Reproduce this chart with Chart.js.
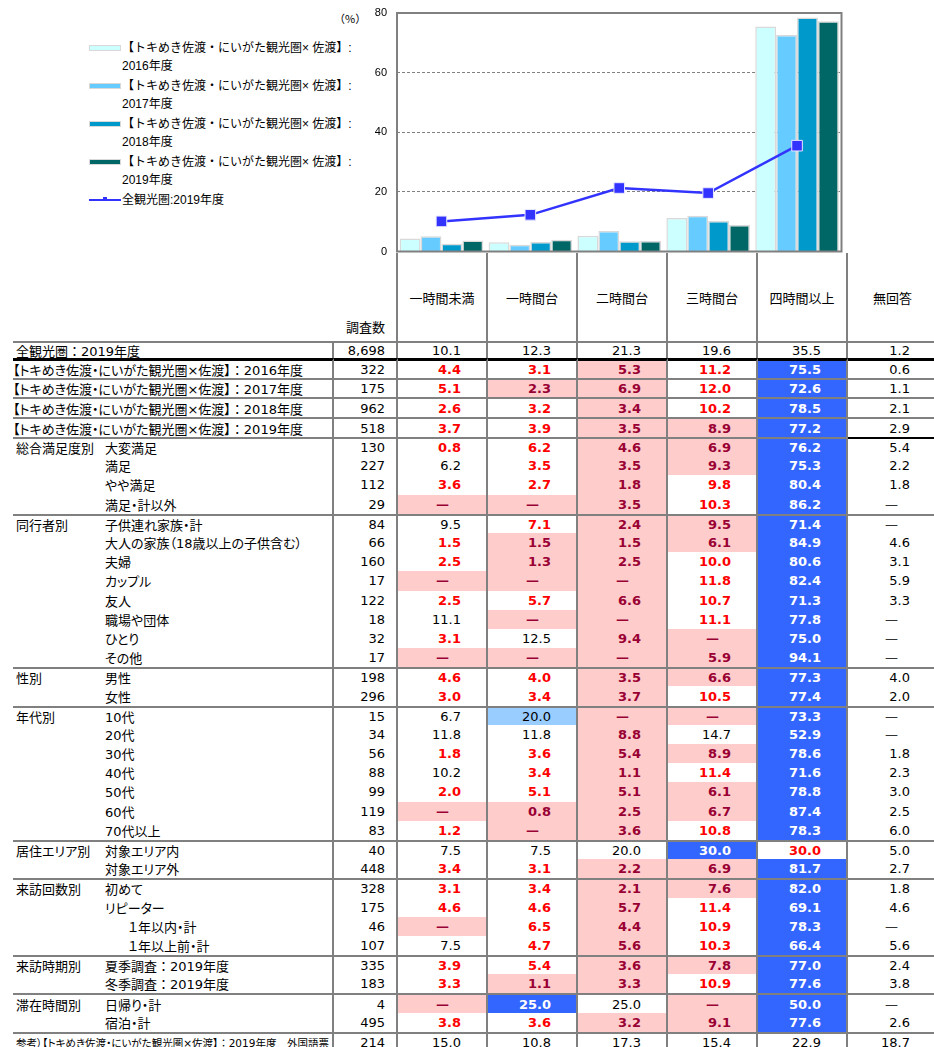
<!DOCTYPE html>
<html lang="ja">
<head>
<meta charset="utf-8">
<script src="https://cdn.jsdelivr.net/npm/chart.js@4.4.1/dist/chart.umd.min.js"></script>
<style>
  html, body { margin: 0; padding: 0; background: #fff; }
  body { width: 934px; height: 1047px; position: relative; overflow: hidden;
         font-family: "DejaVu Sans", "Noto Sans CJK JP", sans-serif; color: #000; }
  #chartBox { position: absolute; left: 360px; top: 0; width: 490px; height: 260px; z-index: 2; }
  #unit { position: absolute; left: 334px; top: 10px; font-size: 11px; font-family: "Noto Sans CJK JP"; }
  #legend { position: absolute; left: 88px; top: 39px; font-size: 12px;
            font-family: "Liberation Sans", "Noto Sans CJK JP", sans-serif; }
  .lg-item { position: relative; height: 38px; padding-left: 34px; line-height: 18px; white-space: nowrap; }
  .lg-sw { position: absolute; left: 1px; top: 6px; width: 30px; height: 4px; border: 1px solid #d9d9d9; }
  .lg-line { position: absolute; left: 1px; top: 8px; width: 32px; height: 2px; }
  .lg-pt { position: absolute; left: 14px; top: -2px; width: 4px; height: 4px; }

  #table { position: absolute; left: 13px; top: 253px; width: 924px; font-size: 13px; z-index: 1; }
  .row { display: flex; }
  .row > div { box-sizing: border-box; height: 100%; display: flex; align-items: center; white-space: nowrap; }
  .row.gt > div { border-top: 2px solid #808080; }
  .row.bt > div { border-top: 3px solid #000; }
  .lab { width: 321px; border-right: 2px solid #808080; padding-left: 3px;
         font-feature-settings: "palt"; }
  .grp { width: 90px; padding-left: 3px; font-feature-settings: "palt"; }
  .sub { width: 231px; border-right: 2px solid #808080; padding-left: 2px; font-feature-settings: "palt"; }
  .fw { font-feature-settings: normal; }
  .n { width: 64px; border-right: 2px solid #808080; justify-content: flex-end; padding-right: 11px; }
  .c { width: 90px; border-right: 2px solid #808080; justify-content: flex-end; padding-right: 25px; }
  .c.last { width: 89px; border-right: none; padding-right: 27px; }
  .c.dash { padding-right: 37px; }
  .c.last.dash { padding-right: 39px; color: #333; }
  .head .c { justify-content: center; padding-right: 0; }
  .head .lab { border-right: none; }
  .head .n { align-items: flex-end; padding-bottom: 5px; }
  .v-k { color: #000; }
  .v-r { color: #ff0000; font-weight: bold; }
  .v-p { background: #ffcccc; color: #990033; font-weight: bold; }
  .v-B { background: #3366ff; color: #fff; font-weight: bold; }
  .v-b { background: #99ccff; color: #000; }
  .blk { border-top-color: #000 !important; }
</style>
</head>
<body>
<div id="unit">（%）</div>
<div id="legend"></div>
<div id="chartBox"><canvas id="chart"></canvas></div>
<div id="table"></div>
<script>
const categories = ['一時間未満', '一時間台', '二時間台', '三時間台', '四時間以上'];
const answerCols = ['一時間未満', '一時間台', '二時間台', '三時間台', '四時間以上', '無回答'];

const seriesLabels = [
  ['【トキめき佐渡・にいがた観光圏× 佐渡】:', '2016年度'],
  ['【トキめき佐渡・にいがた観光圏× 佐渡】:', '2017年度'],
  ['【トキめき佐渡・にいがた観光圏× 佐渡】:', '2018年度'],
  ['【トキめき佐渡・にいがた観光圏× 佐渡】:', '2019年度'],
];
const lineLabel = '全観光圏:2019年度';

const sado2016 = [4.4, 3.1, 5.3, 11.2, 75.5];
const sado2017 = [5.1, 2.3, 6.9, 12.0, 72.6];
const sado2018 = [2.6, 3.2, 3.4, 10.2, 78.5];
const sado2019 = [3.7, 3.9, 3.5, 8.9, 77.2];
const allArea2019 = [10.1, 12.3, 21.3, 19.6, 35.5];

const yMin = 0, yMax = 80, yStep = 20;

// table rows: label, sample count, values, style codes
// k plain / r red bold / p pink cell / B blue cell / b light blue cell
const totalRow = ['全観光圏：2019年度', '8,698', ['10.1', '12.3', '21.3', '19.6', '35.5', '1.2'], 'kkkkkk'];

const yearRows = [
  ['【トキめき佐渡・にいがた観光圏×佐渡】：2016年度', '322', ['4.4', '3.1', '5.3', '11.2', '75.5', '0.6'], 'rrprBk'],
  ['【トキめき佐渡・にいがた観光圏×佐渡】：2017年度', '175', ['5.1', '2.3', '6.9', '12.0', '72.6', '1.1'], 'rpprBk'],
  ['【トキめき佐渡・にいがた観光圏×佐渡】：2018年度', '962', ['2.6', '3.2', '3.4', '10.2', '78.5', '2.1'], 'rrprBk'],
  ['【トキめき佐渡・にいがた観光圏×佐渡】：2019年度', '518', ['3.7', '3.9', '3.5', '8.9', '77.2', '2.9'], 'rrppBk'],
];

const satisfactionRows = [
  ['大変満足', '130', ['0.8', '6.2', '4.6', '6.9', '76.2', '5.4'], 'rrppBk'],
  ['満足', '227', ['6.2', '3.5', '3.5', '9.3', '75.3', '2.2'], 'krppBk'],
  ['やや満足', '112', ['3.6', '2.7', '1.8', '9.8', '80.4', '1.8'], 'rrprBk'],
  ['満足・計以外', '29', ['—', '—', '3.5', '10.3', '86.2', '—'], 'ppprBk'],
];
const companionRows = [
  ['子供連れ家族・計', '84', ['9.5', '7.1', '2.4', '9.5', '71.4', '—'], 'krppBk'],
  ['大人の家族（18歳以上の子供含む）', '66', ['1.5', '1.5', '1.5', '6.1', '84.9', '4.6'], 'rpppBk'],
  ['夫婦', '160', ['2.5', '1.3', '2.5', '10.0', '80.6', '3.1'], 'rpprBk'],
  ['カップル', '17', ['—', '—', '—', '11.8', '82.4', '5.9'], 'ppprBk'],
  ['友人', '122', ['2.5', '5.7', '6.6', '10.7', '71.3', '3.3'], 'rrprBk'],
  ['職場や団体', '18', ['11.1', '—', '—', '11.1', '77.8', '—'], 'kpprBk'],
  ['ひとり', '32', ['3.1', '12.5', '9.4', '—', '75.0', '—'], 'rkppBk'],
  ['その他', '17', ['—', '—', '—', '5.9', '94.1', '—'], 'ppppBk'],
];
const sexRows = [
  ['男性', '198', ['4.6', '4.0', '3.5', '6.6', '77.3', '4.0'], 'rrppBk'],
  ['女性', '296', ['3.0', '3.4', '3.7', '10.5', '77.4', '2.0'], 'rrprBk'],
];
const ageRows = [
  ['10代', '15', ['6.7', '20.0', '—', '—', '73.3', '—'], 'kbppBk'],
  ['20代', '34', ['11.8', '11.8', '8.8', '14.7', '52.9', '—'], 'kkpkBk'],
  ['30代', '56', ['1.8', '3.6', '5.4', '8.9', '78.6', '1.8'], 'rrppBk'],
  ['40代', '88', ['10.2', '3.4', '1.1', '11.4', '71.6', '2.3'], 'krprBk'],
  ['50代', '99', ['2.0', '5.1', '5.1', '6.1', '78.8', '3.0'], 'rrppBk'],
  ['60代', '119', ['—', '0.8', '2.5', '6.7', '87.4', '2.5'], 'ppppBk'],
  ['70代以上', '83', ['1.2', '—', '3.6', '10.8', '78.3', '6.0'], 'rpprBk'],
];
const areaRows = [
  ['対象エリア内', '40', ['7.5', '7.5', '20.0', '30.0', '30.0', '5.0'], 'kkkBrk'],
  ['対象エリア外', '448', ['3.4', '3.1', '2.2', '6.9', '81.7', '2.7'], 'rrppBk'],
];
const visitRows = [
  ['初めて', '328', ['3.1', '3.4', '2.1', '7.6', '82.0', '1.8'], 'rrppBk'],
  ['リピーター', '175', ['4.6', '4.6', '5.7', '11.4', '69.1', '4.6'], 'rrprBk'],
  ['>１年以内・計', '46', ['—', '6.5', '4.4', '10.9', '78.3', '—'], 'prprBk'],
  ['>１年以上前・計', '107', ['7.5', '4.7', '5.6', '10.3', '66.4', '5.6'], 'krprBk'],
];
const seasonRows = [
  ['夏季調査：2019年度', '335', ['3.9', '5.4', '3.6', '7.8', '77.0', '2.4'], 'rrppBk'],
  ['冬季調査：2019年度', '183', ['3.3', '1.1', '3.3', '10.9', '77.6', '3.8'], 'rpprBk'],
];
const stayRows = [
  ['日帰り・計', '4', ['—', '25.0', '25.0', '—', '50.0', '—'], 'pBkpBk'],
  ['宿泊・計', '495', ['3.8', '3.6', '3.2', '9.1', '77.6', '2.6'], 'rrppBk'],
];
const groups = [
  ['総合満足度別', satisfactionRows],
  ['同行者別', companionRows],
  ['性別', sexRows],
  ['年代別', ageRows],
  ['居住エリア別', areaRows],
  ['来訪回数別', visitRows],
  ['来訪時期別', seasonRows],
  ['滞在時間別', stayRows],
];
const refRow = ['参考）【トキめき佐渡・にいがた観光圏×佐渡】：2019年度　外国語票', '214', ['15.0', '10.8', '17.3', '15.4', '22.9', '18.7'], 'kkkkkk'];

// ---------- chart ----------
const barColors = ['#ccffff', '#66ccff', '#0099cc', '#006666'];
const barData = [sado2016, sado2017, sado2018, sado2019];

const framePlugin = {
  id: 'frame',
  afterDraw(chart) {
    const a = chart.chartArea, ctx = chart.ctx;
    ctx.save();
    ctx.strokeStyle = '#808080';
    ctx.lineWidth = 2;
    ctx.strokeRect(a.left, a.top, a.right - a.left, a.bottom - a.top);
    ctx.restore();
  }
};

const datasets = barData.map((d, i) => ({
  label: seriesLabels[i].join(''),
  data: d,
  backgroundColor: barColors[i],
  borderColor: '#d9d9d9',
  borderWidth: 1.5,
  categoryPercentage: 0.94,
  barPercentage: 1.0,
  order: 1,
}));
datasets.push({
  type: 'line',
  label: lineLabel,
  data: allArea2019,
  borderColor: '#3333ff',
  backgroundColor: '#3333ff',
  borderWidth: 2.5,
  pointStyle: 'rect',
  pointRadius: 7.5,
  pointBorderColor: '#e8e8ff',
  pointBorderWidth: 1,
  order: 0,
});

const chart = new Chart('chart', {
  type: 'bar',
  data: { labels: categories, datasets: datasets },
  options: {
    animation: false,
    responsive: true,
    maintainAspectRatio: false,
    devicePixelRatio: 1,
    // y tick labels add half their height to the top/bottom, so bottom padding sits at 7
    layout: { padding: { left: 0, right: 3, top: 13, bottom: 7 } },
    plugins: { legend: { display: false }, tooltip: { enabled: false } },
    scales: {
      x: { display: false },
      y: {
        min: yMin,
        max: yMax,
        afterFit: (s) => { s.width = 37; },
        ticks: {
          stepSize: yStep,
          padding: 0,
          color: '#000',
          font: { family: 'Liberation Sans', size: 11 },
        },
        grid: {
          drawTicks: true,
          tickLength: 10,
          tickColor: 'rgba(0,0,0,0)',
          lineWidth: 1,
          color: (ctx) => (ctx.tick && ctx.tick.value > yMin && ctx.tick.value < yMax) ? '#808080' : 'rgba(0,0,0,0)',
        },
        border: { display: false, dash: [3, 2] },
      }
    }
  },
  plugins: [framePlugin]
});

// legend
const legendBox = document.getElementById('legend');
chart.data.datasets.forEach((ds, i) => {
  const item = document.createElement('div');
  item.className = 'lg-item';
  if (ds.type === 'line') {
    item.innerHTML = '<span class="lg-line" style="background:' + ds.borderColor + '">' +
      '<span class="lg-pt" style="background:' + ds.borderColor + '"></span></span>' + ds.label;
  } else {
    item.innerHTML = '<span class="lg-sw" style="background:' + ds.backgroundColor + '"></span>' +
      seriesLabels[i][0] + '<br>' + seriesLabels[i][1];
  }
  legendBox.appendChild(item);
});

// ---------- table ----------
const fmt = (t) => t.replace(/：/g, '<span class="fw">：</span>');

function valueCells(vals, styles, extra) {
  return vals.map((v, i) => {
    let cls = 'c v-' + styles[i];
    if (i === vals.length - 1) cls += ' last';
    if (v === '—') cls += ' dash';
    if (extra && extra[i]) cls += ' ' + extra[i];
    return '<div class="' + cls + '">' + v + '</div>';
  }).join('');
}

let html = '';
html += '<div class="row head" style="height:88px"><div class="lab"></div><div class="n">調査数</div>' +
  answerCols.map((c, i) => '<div class="c' + (i === answerCols.length - 1 ? ' last' : '') + '">' + c + '</div>').join('') + '</div>';

html += '<div class="row gt" style="height:17px"><div class="lab">' + fmt(totalRow[0]) + '</div><div class="n">' + totalRow[1] + '</div>' +
  valueCells(totalRow[2], totalRow[3]) + '</div>';

const yearHeights = [20, 19, 20, 20];
yearRows.forEach((r, i) => {
  html += '<div class="row ' + (i === 0 ? 'bt' : 'gt') + '" style="height:' + yearHeights[i] + 'px">' +
    '<div class="lab" style="padding-left:0">' + fmt(r[0]) + '</div><div class="n">' + r[1] + '</div>' +
    valueCells(r[2], r[3]) + '</div>';
});

groups.forEach(([g, rows], gi) => {
  rows.forEach((r, i) => {
    let label = r[0], pl = 2;
    if (label.startsWith('>')) { label = label.slice(1); pl = 25; }
    const extra = (gi === 0 && i === 0) ? ['', '', '', '', '', 'blk'] : null;
    html += '<div class="row' + (i === 0 ? ' gt' : '') + '" style="height:19.2px">' +
      '<div class="grp">' + (i === 0 ? g : '') + '</div>' +
      '<div class="sub" style="padding-left:' + pl + 'px">' + fmt(label) + '</div>' +
      '<div class="n">' + r[1] + '</div>' + valueCells(r[2], r[3], extra) + '</div>';
  });
});

html += '<div class="row gt" style="height:19.2px"><div class="lab" style="font-size:10.5px">' + fmt(refRow[0]) + '</div><div class="n">' + refRow[1] + '</div>' +
  valueCells(refRow[2], refRow[3]) + '</div>';

document.getElementById('table').innerHTML = html;
</script>
</body>
</html>
